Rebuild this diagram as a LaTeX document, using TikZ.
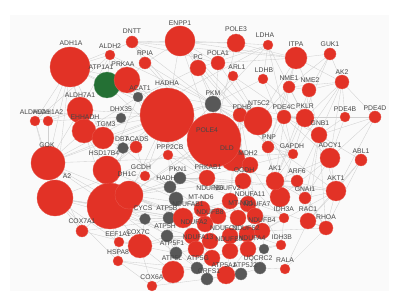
\documentclass[tikz,border=0pt]{standalone}
\usepackage{fontspec}
\setmainfont{Liberation Sans}
\definecolor{nred}{RGB}{226,50,38}
\definecolor{ngray}{RGB}{88,88,88}
\definecolor{ngreen}{RGB}{36,112,52}
\definecolor{edgec}{RGB}{208,208,208}
\definecolor{lblc}{RGB}{70,70,70}
\definecolor{panel}{RGB}{250,250,250}
\pgfdeclarelayer{edges}
\pgfsetlayers{edges,main}
\tikzset{
  rn/.style={circle,fill=nred,draw=nred!80!white,line width=0.3pt,inner sep=0pt,minimum size={2*#1pt}},
  gn/.style={circle,fill=ngray,draw=ngray!80!white,line width=0.3pt,inner sep=0pt,minimum size={2*#1pt}},
  grn/.style={circle,fill=ngreen,draw=ngreen!80!white,line width=0.3pt,inner sep=0pt,minimum size={2*#1pt}},
  lbl/.style={font=\fontsize{6.8}{7}\selectfont,text=lblc,inner sep=0pt},
  edge/.style={draw=edgec,line width=0.35pt}
}
\begin{document}
\begin{tikzpicture}[x=1pt,y=-1pt]
\useasboundingbox (0,0) rectangle (402,296);
% ---- nodes ----
\foreach \n/\x/\y/\r in {ACAT1/138/97/5, DHX35/121/118/5, DBT/123/148/5.5, CYCS/145/219/5.5,
  PKM/213/104/8, PKN1/180/178/6, G1/170/187/6, G2/176/199/7, G3/169/218/6, G4/167/236/6,
  G5/176/253/6, G6/197/268/6, G7/207/279/6, G8/241/274/6, G9/260/268/6, G10/264/249/5}
  \node[gn=\r] (\n) at (\x,\y) {};
\node[grn=13] (ATP1A1) at (107,85) {};
\foreach \n/\x/\y/\r in {ADH1A/70/67/20, ALDH2/110/55/5, DNTT/132/42/6, PRKAA/127/80/13,
  ALDH7A1/80/110/13, ALDH9A1/35/121/5, ALDH1A2/48/121/5, EHHADH/84/131/12, TGM3/103/138/11,
  ACADS/136/147/6, HSD17B4/107/170/14, GCDH/145/176/5, GOK/48/163/17, ATWO/55/198/18,
  BIG/110/206/23, IDHX/129/195/14, COX7A1/82/231/6, EEF1A1/119/242/5, HSPA8/118/261/5,
  COX7C/140/246/12, COX6A1/152/286/5, C19/173/272/11, HADHA/167/115/27, ENPP1/180/41/15,
  RPIA/145/63/6, PC/198/68/8, POLA1/218/63/7, POLE3/236/43/9, ARL1/233/76/5, LDHA/268/45/5,
  LDHB/263/79/5, PDHB/240/115/7, NT5C2/258/121/14, DLD/233/159/12, POLE4/214/140/27,
  PPP2CB/168/155/5, MDH2/250/165/8, OGDH/243/181/8, PRKAB1/207/178/8,
  C1/230/201/8, C2/248/204/8, C3/202/209/8, C4/183/218/10, C5/218/216/8, C6/238/218/8,
  C7/255/216/8, C8/205/224/8, C9/262/231/8, C10/192/236/8, C11/196/249/8, C12/210/241/8,
  C13/230/236/8, C14/247/234/8, C15/212/258/8, C16/230/251/8, C17/248/249/8, C18/226/275/9,
  AKX/280/197/10, IDH3A/284/218/5, IDH3B/281/245/5, RALA/285/269/5, RAC1/308/221/8,
  RHOA/326/228/7, GNAI1/305/198/6, AKT1/336/191/10, AK1/275/181/9, ARF6/297/181/6,
  ABL1/361/160/6, ADCY1/330/158/10, GAPDH/293/154/5, PNP/268/147/6, GNB1/319/135/8,
  PDE4C/284/117/7, PKLR/305/118/9, PDE4B/345/117/5, PDE4D/375/117/6, NME1/289/87/6,
  NME2/309/90/7, AK2/342/82/7, ITPA/296/58/11, GUK1/330/54/6}
  \node[rn=\r] (\n) at (\x,\y) {};
% ---- labels ----
\foreach \t/\x/\y [count=\i] in {ADH1A/71/43, ALDH2/110/46, DNTT/132/31, ATP1A1/101/67,
  PRKAA/123/64, ACAT1/140/88, ALDH7A1/80/95, ALDH9A1/35/112, ALDH1A2/48/112, EHHADH/85/117,
  TGM3/106/124, DHX35/121/109, DBT/122/139, ACADS/137/139, HSD17B4/104/153, GCDH/141/167,
  DH1C/127/174, GOK/47/145, A2/67/176, COX7A1/82/221, EEF1A1/118/234, HSPA8/118/252,
  COX7C/138/232, CYCS/143/208, COX6A/152/277, HADHA/167/83, ENPP1/180/23, RPIA/145/53,
  PC/198/57, POLA1/218/53, POLE3/236/29, ARL1/237/67, LDHA/265/35, LDHB/264/70, PKM/213/93,
  PDHB/242/107, NT5C2/259/103, POLE4/207/130, DLD/227/148, PPP2CB/170/147, MDH2/248/153,
  OGDH/244/170, PRKAB1/208/167, PKN1/178/169, HADH/166/178, ATP5B/167/208, NDUFAB1/188/204,
  ATP5H/165/226, ATP5F1/172/243, ATP5L/172/258, ATP5G/198/258, CRFS1/209/271, ATP5A1/224/265,
  ATP5J2/245/265, UQCRC2/258/259, RALA/285/260, IDH3B/282/237, IDH3A/284/209, RAC1/308/209,
  RHOA/326/217, GNAI1/305/189, AKT1/336/178, AK1/275/168, ARF6/297/171, ABL1/361/151,
  ADCY1/330/145, GAPDH/292/146, PNP/269/137, GNB1/320/123, PDE4C/284/107, PKLR/305/106,
  PDE4B/345/109, PDE4D/375/108, NME1/289/78, NME2/310/80, AK2/342/72, ITPA/296/44,
  GUK1/330/44, NDUFB6/210/188, NDUFV2/227/188, NDUFA11/250/194, MT-ND6/201/197,
  MT-ND1/241/203, NDUFA7/257/204, NDUFB8/210/212, NDUFB4/262/220, NDUFA2/194/222,
  NDUFC1/224/228, NDUFS2/246/228, NDUFA13/198/237, NDUFB9/229/239, NDUFA4/252/238}
  \node[lbl] (lab\i) at (\x,\y) {\t};
% ---- edges ----
\begin{pgfonlayer}{edges}
\fill[panel] (10,15) rectangle (389,291);
\foreach \a/\b in {ADH1A/ALDH2, ADH1A/ALDH7A1, ADH1A/ALDH9A1, ADH1A/ALDH1A2, ADH1A/EHHADH,
  ADH1A/GOK, ADH1A/HADHA, ADH1A/ACAT1, ADH1A/TGM3, ADH1A/ATWO, ADH1A/DNTT, ADH1A/PRKAA,
  ALDH2/ALDH7A1, ALDH2/ALDH9A1, ALDH2/HADHA, ALDH2/ATP1A1, ALDH2/PKM, ALDH7A1/ALDH9A1,
  ALDH7A1/ALDH1A2, ALDH7A1/EHHADH, ALDH7A1/GOK, ALDH7A1/HADHA, ALDH9A1/GOK, ALDH1A2/GOK,
  ALDH9A1/ATWO, ALDH1A2/HADHA, EHHADH/HADHA, EHHADH/ACAT1, EHHADH/HSD17B4, EHHADH/TGM3,
  EHHADH/GOK, EHHADH/BIG, EHHADH/DHX35, TGM3/HADHA, TGM3/DBT, HSD17B4/HADHA, HSD17B4/ACAT1,
  HSD17B4/DBT, HSD17B4/ACADS, HSD17B4/BIG, HSD17B4/GCDH, HSD17B4/C3, ACADS/HADHA, ACADS/GCDH,
  DBT/G1, DBT/BIG, DBT/HADHA, GCDH/G1, GCDH/HADHA, BIG/IDHX, BIG/COX7A1, BIG/EEF1A1, BIG/HSPA8,
  BIG/COX7C, BIG/GOK, BIG/ATWO, BIG/PKM, BIG/CYCS, BIG/POLE4, BIG/C4, BIG/C11, BIG/G5,
  IDHX/OGDH, IDHX/MDH2, IDHX/DLD, IDHX/HADHA, IDHX/IDH3A, IDHX/IDH3B, IDHX/PDHB, IDHX/C4,
  IDHX/C8, IDHX/PRKAB1, GOK/ATWO, GOK/HADHA, GOK/PKM, GOK/LDHA, GOK/COX7A1, GOK/C4, GOK/CYCS,
  GOK/GAPDH, ATWO/COX7A1, ATWO/HSPA8, ATWO/PPP2CB, ATWO/EEF1A1, ATWO/C4, ATWO/G3, ATWO/C10,
  COX7A1/COX7C, COX7A1/C4, HSPA8/EEF1A1, HSPA8/COX6A1, HSPA8/C19, HSPA8/G6, EEF1A1/COX7C,
  COX7C/CYCS, COX7C/G4, COX7C/C19, COX7C/COX6A1, COX7C/C10, COX7C/G5, COX6A1/C19, COX6A1/G7,
  CYCS/G3, CYCS/C4, CYCS/G4, ENPP1/DNTT, ENPP1/RPIA, ENPP1/PC, ENPP1/POLA1, ENPP1/POLE3,
  ENPP1/POLE4, ENPP1/ITPA, ENPP1/NT5C2, ENPP1/PNP, ENPP1/HADHA, DNTT/POLE3, DNTT/POLA1,
  DNTT/POLE4, DNTT/RPIA, DNTT/ITPA, DNTT/PKM, POLE3/POLA1, POLE3/POLE4, POLE3/ITPA, POLE3/LDHA,
  POLA1/POLE4, POLA1/ITPA, POLA1/NT5C2, PC/PKM, PC/LDHA, PC/PDHB, PC/ACAT1, PC/MDH2, RPIA/PRKAA,
  RPIA/PKM, RPIA/POLE4, ARL1/PKM, ARL1/ARF6, ARL1/GNB1, LDHA/LDHB, LDHA/PKM, LDHA/PKLR,
  LDHA/GAPDH, LDHB/PKM, LDHB/PKLR, LDHB/GAPDH, ITPA/NME1, ITPA/NME2, ITPA/GUK1, ITPA/AK2,
  ITPA/NT5C2, ITPA/PNP, GUK1/NME1, GUK1/NME2, GUK1/AK2, GUK1/AK1, NME1/NME2, NME1/AK2,
  NME1/PKLR, NME1/NT5C2, NME1/PNP, NME1/AK1, NME2/AK2, NME2/PKLR, NME2/GNB1, NME2/AK1,
  AK2/AK1, AK2/PDE4B, AK2/PDE4D, AK2/ADCY1, AK2/PKLR, AK2/GNB1, PDE4C/PDE4B, PDE4C/PDE4D,
  PDE4C/NT5C2, PDE4C/PNP, PDE4C/ADCY1, PDE4C/GNB1, PDE4B/PDE4D, PDE4B/ADCY1, PDE4B/GNB1,
  PDE4D/ADCY1, PDE4D/GNB1, PDE4D/AKT1, PKLR/PKM, PKLR/GAPDH, PKLR/NT5C2, GNB1/ADCY1,
  GNB1/GNAI1, GNB1/AKT1, GNB1/RAC1, GNB1/RHOA, GNB1/ARF6, ADCY1/GNAI1, ADCY1/AKT1, ADCY1/AK1,
  ABL1/AKT1, ABL1/RAC1, ABL1/RHOA, ABL1/GNB1, AKT1/RAC1, AKT1/RHOA, AKT1/GNAI1, AKT1/PKM,
  AKT1/C9, RAC1/RHOA, RAC1/RALA, RAC1/GNAI1, RHOA/RALA, RHOA/GNAI1, RHOA/C9, ARF6/RAC1,
  ARF6/RHOA, ARF6/AK1, GNAI1/AK1, AK1/AKX, AK1/PNP, AK1/NT5C2, AKX/ADCY1, AKX/GAPDH,
  PNP/NT5C2, PNP/GAPDH, GAPDH/PKM, GAPDH/MDH2, NT5C2/PDHB, NT5C2/POLE4, PDHB/DLD, PDHB/PKM,
  PDHB/MDH2, PDHB/OGDH, PDHB/C1, DLD/OGDH, DLD/MDH2, DLD/C1, DLD/C2, MDH2/OGDH, MDH2/IDH3A,
  MDH2/C7, OGDH/IDH3A, OGDH/IDH3B, OGDH/C2, IDH3A/IDH3B, IDH3A/C9, IDH3A/C7, IDH3B/G10,
  IDH3B/C17, RALA/G9, POLE4/HADHA, POLE4/PKM, POLE4/DLD, HADHA/ACAT1, HADHA/PKM,
  HADHA/PPP2CB, HADHA/PRKAA, HADHA/G1, PRKAA/ATP1A1, PRKAA/PRKAB1, PRKAA/ACAT1,
  PRKAA/PPP2CB, ATP1A1/ACAT1, ATP1A1/PKM, ATP1A1/PRKAB1, PPP2CB/PRKAB1, PPP2CB/AKT1,
  PPP2CB/PKN1, PRKAB1/PKN1, PRKAB1/AKT1, PKN1/G1, PKN1/RHOA, PKN1/AKT1, G1/G2, G2/G3,
  G1/C3, G2/C4, G3/G4, G4/G5, G5/G6, G6/G7, G7/G8, G8/G9, G9/G10, G3/G5, G4/G6, G3/C4,
  G5/C19, G6/C15, G7/C18, G8/C18, G9/C17, G10/C9, C19/G4, C19/G6,
  C1/C2, C1/C3, C1/C5, C1/C6, C2/C6, C2/C7, C3/C4, C3/C5, C3/C8, C4/C8, C4/C10, C5/C6,
  C5/C8, C5/C12, C6/C7, C6/C13, C6/C14, C7/C9, C7/C14, C8/C10, C8/C12, C9/C14, C9/C17,
  C10/C11, C10/C12, C11/C12, C11/C15, C12/C13, C12/C15, C13/C14, C13/C16, C14/C17, C15/C16,
  C16/C17, C15/C18, C16/C18, C17/C18, C1/C14, C2/C13, C3/C12, C4/C11, C5/C16, C7/C17,
  C9/C16, C1/C8, C2/C5, C4/C15, C11/G5, C10/G4, C3/G2, C8/G3}
  \draw[edge] (\a) -- (\b);
\end{pgfonlayer}
\end{tikzpicture}
\end{document}
